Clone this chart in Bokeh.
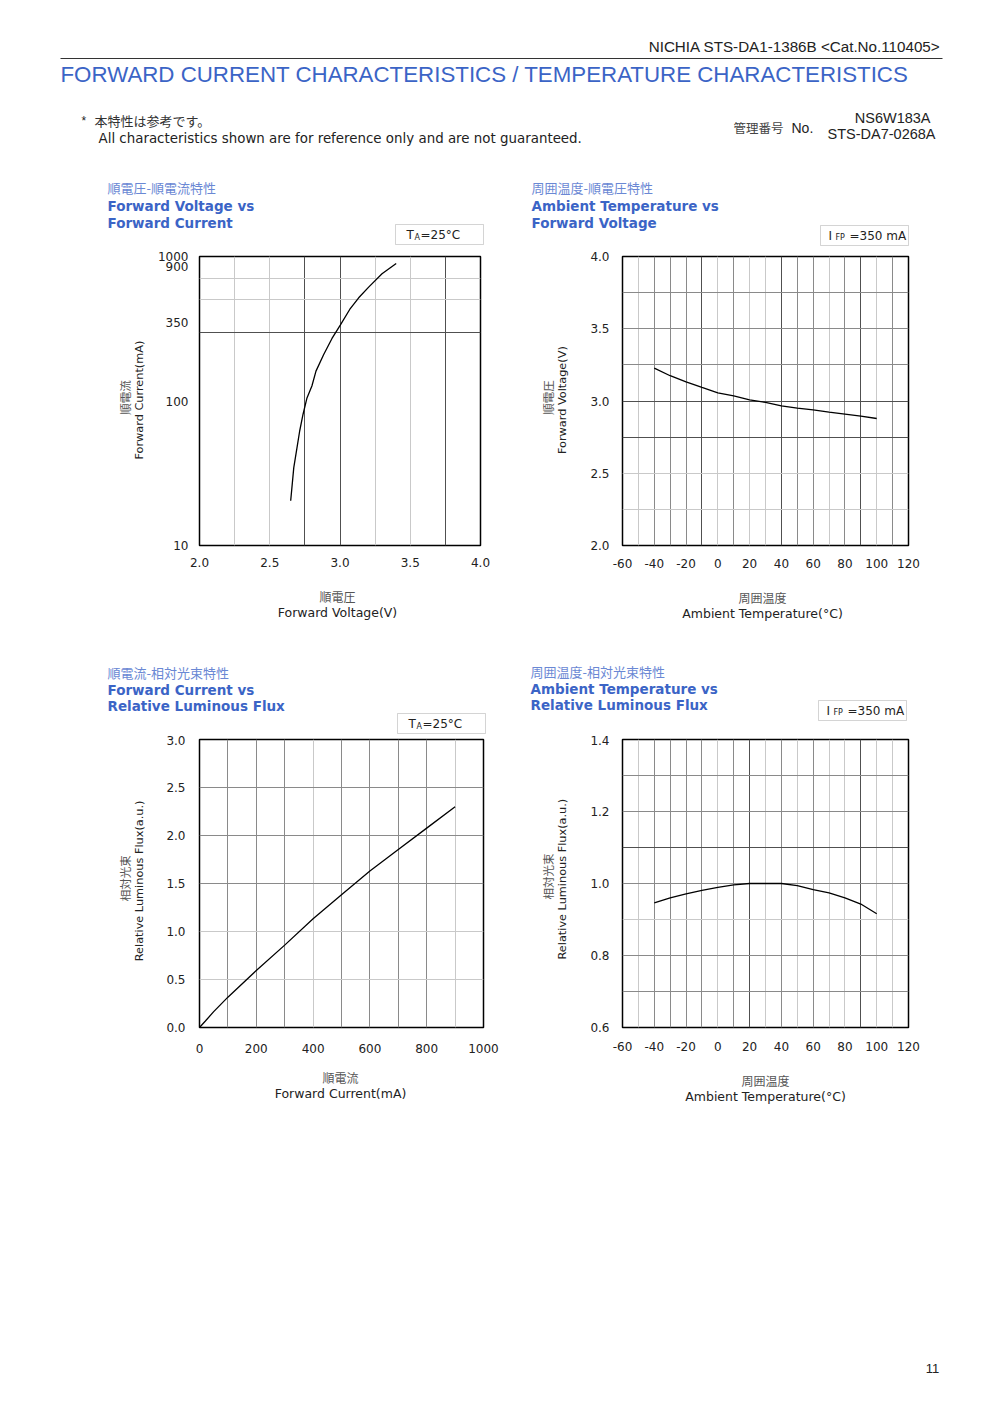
import math
from bokeh.plotting import figure
from bokeh.models import Range1d, Label, BoxAnnotation, Grid, FixedTicker
from bokeh.layouts import column, row
from bokeh.embed import file_html
from bokeh.resources import INLINE

# ---------------- data ----------------
# Forward Voltage vs Forward Current (Ta=25C)
vf_voltage = [2.649, 2.671, 2.690, 2.713, 2.737, 2.765, 2.800, 2.829, 2.884, 2.943,
              3.002, 3.069, 3.133, 3.204, 3.299, 3.400]
vf_current = [20.4, 34.6, 45, 62, 81, 105, 127, 161, 210, 271, 335, 430, 518, 614, 759, 895]
vf_x_ticks = [2.0, 2.5, 3.0, 3.5, 4.0]
vf_y_ticks = [10, 100, 350, 850, 1000]
vf_y_tick_labels = ["10", "100", "350", "900", "1000"]

# Ambient Temperature vs Forward Voltage (IFP=350mA)
tv_temp = [-40, -30, -20, -10, 0, 10, 20, 30, 40, 50, 60, 70, 80, 90, 100]
tv_voltage = [3.228, 3.175, 3.133, 3.094, 3.057, 3.036, 3.008, 2.990, 2.967, 2.950,
              2.939, 2.923, 2.909, 2.895, 2.879]
temp_x_ticks = [-60, -40, -20, 0, 20, 40, 60, 80, 100, 120]
tv_y_ticks = [2.0, 2.5, 3.0, 3.5, 4.0]

# Forward Current vs Relative Luminous Flux (Ta=25C)
if_current = [0, 20, 50, 100, 200, 300, 400, 500, 600, 700, 800, 900]
if_flux = [0, 0.065, 0.165, 0.316, 0.594, 0.858, 1.133, 1.383, 1.630, 1.854, 2.077, 2.300]
if_x_ticks = [0, 200, 400, 600, 800, 1000]
if_y_ticks = [0.0, 0.5, 1.0, 1.5, 2.0, 2.5, 3.0]

# Ambient Temperature vs Relative Luminous Flux (IFP=350mA)
tf_temp = [-40, -30, -20, -10, 0, 10, 20, 30, 40, 50, 60, 70, 80, 90, 100]
tf_flux = [0.946, 0.960, 0.971, 0.981, 0.989, 0.996, 1.000, 1.000, 1.000, 0.994,
           0.983, 0.974, 0.960, 0.943, 0.916]
tf_y_ticks = [0.6, 0.8, 1.0, 1.2, 1.4]

# ---------------- style ----------------
BLUE = "#3b64c6"
BLUE_JP = "#6a88d4"
DARK = "#505050"
MID = "#8a8a8a"
LIGHT = "#c9c9c9"
FONT = "DejaVu Sans"
JP = "Noto Sans CJK JP"
SANS = "Liberation Sans"


def blank_fig(x0, y0, w, h):
    """A plain canvas whose data coordinates equal page pixels."""
    p = figure(width=w, height=h, x_range=Range1d(x0, x0 + w), y_range=Range1d(y0 + h, y0),
               output_backend="svg", toolbar_location=None, min_border=0)
    p.axis.visible = False
    p.grid.visible = False
    p.outline_line_color = None
    p.background_fill_color = "white"
    p.border_fill_color = "white"
    return p


def lab(p, x, y, text, size="12px", font=FONT, color="#222222", align="left",
        style="normal", angle=0.0):
    p.add_layout(Label(x=x, y=y, text=text, text_font=font, text_font_size=size,
                       text_color=color, text_align=align, text_baseline="middle",
                       text_font_style=style, angle=angle))


def titles(p, x, ys, jp, en1, en2):
    lab(p, x, ys[0], jp, size="13px", font=JP, color=BLUE_JP)
    lab(p, x, ys[1], en1, size="13.5px", color=BLUE, style="bold")
    lab(p, x, ys[2], en2, size="13.5px", color=BLUE, style="bold")


def frame_box(p, l, t):
    p.add_layout(BoxAnnotation(left=l, right=l + 88, top=t, bottom=t + 20,
                               fill_color="white", fill_alpha=1.0,
                               line_color="#707070", line_width=1))


def ta_box(p, l, t):
    frame_box(p, l, t)
    lab(p, l + 11, t + 10, "T", size="12px")
    lab(p, l + 19, t + 13, "A", size="8px")
    lab(p, l + 25, t + 10, "=25°C", size="12px")


def ifp_box(p, l, t):
    frame_box(p, l, t)
    lab(p, l + 8, t + 10, "I", size="12px")
    lab(p, l + 15, t + 12, "FP", size="8px")
    lab(p, l + 29, t + 10, "=350 mA", size="12px")


def xlabel(p, cx, cy, jp, en):
    lab(p, cx, cy, jp, size="12px", font=JP, color="#555555", align="center")
    lab(p, cx, cy + 16, en, size="12.5px", align="center")


def ylabel(p, cx, cy, jp, en):
    # rotated labels are nudged down to sit where the reference centres them
    lab(p, cx - 15, cy + 10, jp, size="11.5px", font=JP, color="#555555", align="center",
        angle=math.pi / 2)
    lab(p, cx, cy + 13, en, size="11.3px", align="center", angle=math.pi / 2)


def chart(origin, size, frame, x_rng, y_rng, y_log=False, xs=8, ys=8):
    ox, oy = origin
    fw, fh = size
    PL, PT, PW, PH = frame
    L, T = PL - ox, PT - oy
    p = figure(width=fw, height=fh, x_range=Range1d(*x_rng), y_range=Range1d(*y_rng),
               y_axis_type="log" if y_log else "linear",
               output_backend="svg", toolbar_location=None,
               min_border_left=L, min_border_top=T,
               min_border_right=fw - L - PW, min_border_bottom=fh - T - PH)
    p.grid.visible = False
    p.outline_line_color = "black"
    p.outline_line_width = 1.5
    p.background_fill_color = "white"
    p.border_fill_color = "white"
    for ax in (p.xaxis[0], p.yaxis[0]):
        ax.axis_line_color = None
        ax.major_tick_line_color = None
        ax.minor_tick_line_color = None
        ax.major_label_text_font = FONT
        ax.major_label_text_font_size = "12px"
        ax.major_label_text_color = "#222222"
    p.xaxis[0].major_label_standoff = xs
    p.yaxis[0].major_label_standoff = ys
    return p


def grids(p, dim, ticks, color):
    p.add_layout(Grid(dimension=dim, ticker=FixedTicker(ticks=ticks),
                      grid_line_color=color, grid_line_width=1))


def set_ticks(ax, ticks, labels):
    ax.ticker = FixedTicker(ticks=ticks, minor_ticks=[])
    ax.major_label_overrides = {t: s for t, s in zip(ticks, labels)}


# ---------------- header ----------------
header = blank_fig(0, 0, 1000, 170)
lab(header, 940, 46, "NICHIA STS-DA1-1386B <Cat.No.110405>", size="15.2px", font=SANS, align="right")
header.segment(x0=[60], y0=[58], x1=[942], y1=[58], line_color="#333333", line_width=1)
lab(header, 60, 74, "FORWARD CURRENT CHARACTERISTICS / TEMPERATURE CHARACTERISTICS",
    size="22.3px", font=SANS, color=BLUE)
lab(header, 81, 120, "*", size="12px", font=SANS)
lab(header, 94, 120, "本特性は参考です。", size="13px", font=JP, color="#333333")
lab(header, 98, 138, "All characteristics shown are for reference only and are not guaranteed.",
    size="13.4px", font=FONT)
lab(header, 733, 127, "管理番号", size="12.5px", font=JP, color="#444444")
lab(header, 791, 127, "No.", size="14px", font=SANS)
lab(header, 930, 117, "NS6W183A", size="14.5px", font=SANS, align="right")
lab(header, 935, 133, "STS-DA7-0268A", size="14.5px", font=SANS, align="right")

# ---------------- row 1 ----------------
band1 = blank_fig(0, 170, 1000, 80)
titles(band1, 107, (187, 205, 222), "順電圧-順電流特性", "Forward Voltage vs", "Forward Current")
ta_box(band1, 395, 224)
titles(band1, 531, (187, 205, 222), "周囲温度-順電圧特性", "Ambient Temperature vs", "Forward Voltage")
ifp_box(band1, 820, 225)

left1 = blank_fig(0, 250, 150, 330)
ylabel(left1, 139, 401, "順電流", "Forward Current(mA)")
mid1 = blank_fig(500, 250, 75, 330)
ylabel(mid1, 562, 401, "順電圧", "Forward Voltage(V)")

# chart 1: Forward Voltage vs Forward Current
c1 = chart((150, 250), (350, 330), (199, 255, 281, 290), (2.0, 4.0), (10, 1000), y_log=True,
           xs=6, ys=5)
set_ticks(c1.xaxis[0], vf_x_ticks, [f"{t:.1f}" for t in vf_x_ticks])
set_ticks(c1.yaxis[0], vf_y_ticks, vf_y_tick_labels)
grids(c1, 0, [2.25, 2.5, 3.25, 3.5], LIGHT)
grids(c1, 0, [2.75, 3.0, 3.75], DARK)
grids(c1, 1, [500, 700], LIGHT)
grids(c1, 1, [300], DARK)
c1.line(vf_voltage, vf_current, line_color="black", line_width=1.3)

# chart 2: Ambient Temperature vs Forward Voltage
c2 = chart((575, 250), (425, 330), (622, 256, 286, 289), (-60, 120), (2.0, 4.0), xs=7, ys=7)
set_ticks(c2.xaxis[0], temp_x_ticks, [str(t) for t in temp_x_ticks])
set_ticks(c2.yaxis[0], tv_y_ticks, [f"{t:.1f}" for t in tv_y_ticks])
grids(c2, 0, [-50, 0, 20, 30, 70, 100], LIGHT)
grids(c2, 0, [-40, -30, -20, 10, 50, 60, 80, 110], MID)
grids(c2, 0, [-10, 40, 90], DARK)
grids(c2, 1, [2.25, 2.5], LIGHT)
grids(c2, 1, [3.25, 3.5, 3.75], MID)
grids(c2, 1, [2.75, 3.0], DARK)
c2.line(tv_temp, tv_voltage, line_color="black", line_width=1.3)

band1b = blank_fig(0, 580, 1000, 60)
xlabel(band1b, 337, 596, "順電圧", "Forward Voltage(V)")
xlabel(band1b, 762, 597, "周囲温度", "Ambient Temperature(°C)")

# ---------------- row 2 ----------------
band2 = blank_fig(0, 640, 1000, 95)
titles(band2, 107, (672, 689, 705), "順電流-相対光束特性", "Forward Current vs", "Relative Luminous Flux")
ta_box(band2, 397, 713)
titles(band2, 530, (671, 688, 704), "周囲温度-相対光束特性", "Ambient Temperature vs", "Relative Luminous Flux")
ifp_box(band2, 818, 700)

left2 = blank_fig(0, 735, 150, 330)
ylabel(left2, 139, 884, "相対光束", "Relative Luminous Flux(a.u.)")
mid2 = blank_fig(500, 735, 75, 330)
ylabel(mid2, 562, 882, "相対光束", "Relative Luminous Flux(a.u.)")

# chart 3: Forward Current vs Relative Luminous Flux
c3 = chart((150, 735), (350, 330), (199, 739, 284, 291), (0, 1000), (0.0, 3.0), xs=10, ys=8)
set_ticks(c3.xaxis[0], if_x_ticks, [str(t) for t in if_x_ticks])
set_ticks(c3.yaxis[0], if_y_ticks, [f"{t:.1f}" for t in if_y_ticks])
grids(c3, 0, [400, 900], LIGHT)
grids(c3, 0, [100, 200, 300, 500, 600, 700, 800], MID)
grids(c3, 1, [0.5, 1.0], LIGHT)
grids(c3, 1, [1.5, 2.0, 2.5], MID)
c3.line(if_current, if_flux, line_color="black", line_width=1.3)

# chart 4: Ambient Temperature vs Relative Luminous Flux
c4 = chart((575, 735), (425, 330), (622, 737, 286, 290), (-60, 120), (0.6, 1.4), xs=8, ys=7)
set_ticks(c4.xaxis[0], temp_x_ticks, [str(t) for t in temp_x_ticks])
set_ticks(c4.yaxis[0], tf_y_ticks, [f"{t:.1f}" for t in tf_y_ticks])
grids(c4, 0, [-50, 0, 30, 50, 70, 80, 100, 110], LIGHT)
grids(c4, 0, [-40, -30, -20, -10, 10, 40, 60], MID)
grids(c4, 0, [20, 90], DARK)
grids(c4, 1, [0.9], LIGHT)
grids(c4, 1, [0.7, 0.8, 1.0, 1.2, 1.3], MID)
grids(c4, 1, [1.1], DARK)
c4.line(tf_temp, tf_flux, line_color="black", line_width=1.3)

band2b = blank_fig(0, 1065, 1000, 55)
xlabel(band2b, 340, 1077, "順電流", "Forward Current(mA)")
xlabel(band2b, 765, 1080, "周囲温度", "Ambient Temperature(°C)")

# ---------------- footer ----------------
footer = blank_fig(0, 1120, 1000, 280)
lab(footer, 932, 1368, "11", size="13px", font=SANS, align="center")

page = column(header,
              band1, row(left1, c1, mid1, c2), band1b,
              band2, row(left2, c3, mid2, c4), band2b,
              footer)
open("out.html", "w").write(file_html(page, INLINE))
